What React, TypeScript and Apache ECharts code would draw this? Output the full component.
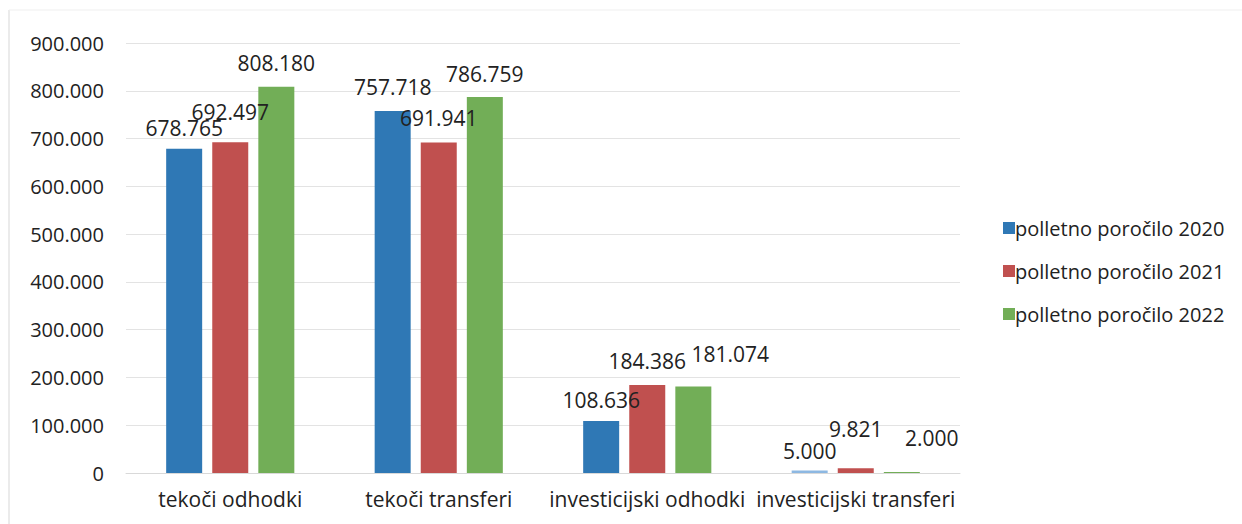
import React, { useEffect, useRef } from "react";
import * as echarts from "echarts";

const categories = ["tekoči odhodki", "tekoči transferi", "investicijski odhodki", "investicijski transferi"];
const seriesNames = ["polletno poročilo 2020", "polletno poročilo 2021", "polletno poročilo 2022"];
const values2020 = [678765, 757718, 108636, 5000];
const values2021 = [692497, 691941, 184386, 9821];
const values2022 = [808180, 786759, 181074, 2000];
const colors = ["#2f78b5", "#c0504f", "#72ae57"];
// label offsets [dx, dy] per series, per category (manual placements in the original)
const labelOffsets = [
  [[0, 3], [0, 0], [0, 2], [0, 4]],
  [[0, -7], [0, -1], [0, 0], [0, -16]],
  [[0, 0], [0, 0], [37, -9], [30, -11]],
];

const fmt = (v: number) => {
  const s = Math.round(v).toString();
  return s.replace(/\B(?=(\d{3})+(?!\d))/g, ".");
};

const FONT = "'Open Sans', Lato, sans-serif";

export default function App() {
  const ref = useRef<HTMLDivElement>(null);
  useEffect(() => {
    if (!ref.current) return;
    const chart = echarts.init(ref.current, undefined, { renderer: "svg" });
    const all = [values2020, values2021, values2022];
    chart.setOption({
      animation: false,
      textStyle: { fontFamily: FONT },
      color: colors,
      graphic: [
        { type: "line", shape: { x1: 9, y1: 10, x2: 9, y2: 524 }, style: { stroke: "#e4e4e4", lineWidth: 1.5 } },
        { type: "line", shape: { x1: 9, y1: 10, x2: 1242, y2: 10 }, style: { stroke: "#efefef", lineWidth: 1 } },
      ],
      legend: {
        orient: "vertical",
        left: 998,
        top: 213,
        itemWidth: 12,
        itemHeight: 12,
        itemGap: 23,
        icon: "rect",
        textStyle: { fontSize: 20, color: "#222", fontFamily: FONT, padding: [0, 0, 0, -5] },
        data: seriesNames,
      },
      grid: { left: 126, right: 282, top: 43, bottom: 51 },
      xAxis: {
        type: "category",
        data: categories,
        axisTick: { show: false },
        axisLine: { lineStyle: { color: "#d9d9d9" } },
        axisLabel: { fontSize: 21, color: "#222", margin: 15, interval: 0, fontFamily: FONT },
      },
      yAxis: {
        type: "value",
        min: 0,
        max: 900000,
        interval: 100000,
        axisLine: { show: false },
        axisTick: { show: false },
        splitLine: { lineStyle: { color: "#e3e3e3" } },
        axisLabel: { fontSize: 20, color: "#222", margin: 22, fontFamily: FONT, formatter: (v: number) => fmt(v) },
      },
      series: all.map((vals, i) => ({
        name: seriesNames[i],
        type: "bar",
        barWidth: 36,
        barGap: "28%",
        data: vals.map((v, j) => {
          const item: any = { value: v, label: { offset: labelOffsets[i][j] } };
          if (i === 0 && j === 3) item.itemStyle = { color: "#8db8e2" };
          return item;
        }),
        itemStyle: { color: colors[i] },
        label: {
          show: true,
          position: "top",
          distance: 13,
          fontSize: 21,
          color: "#222",
          fontFamily: FONT,
          formatter: (p: any) => fmt(p.value),
        },
      })),
    });
    return () => chart.dispose();
  }, []);
  return (
    <div
      ref={ref}
      style={{ position: "fixed", left: 0, top: 0, width: 1242, height: 524, background: "#fff" }}
    />
  );
}
